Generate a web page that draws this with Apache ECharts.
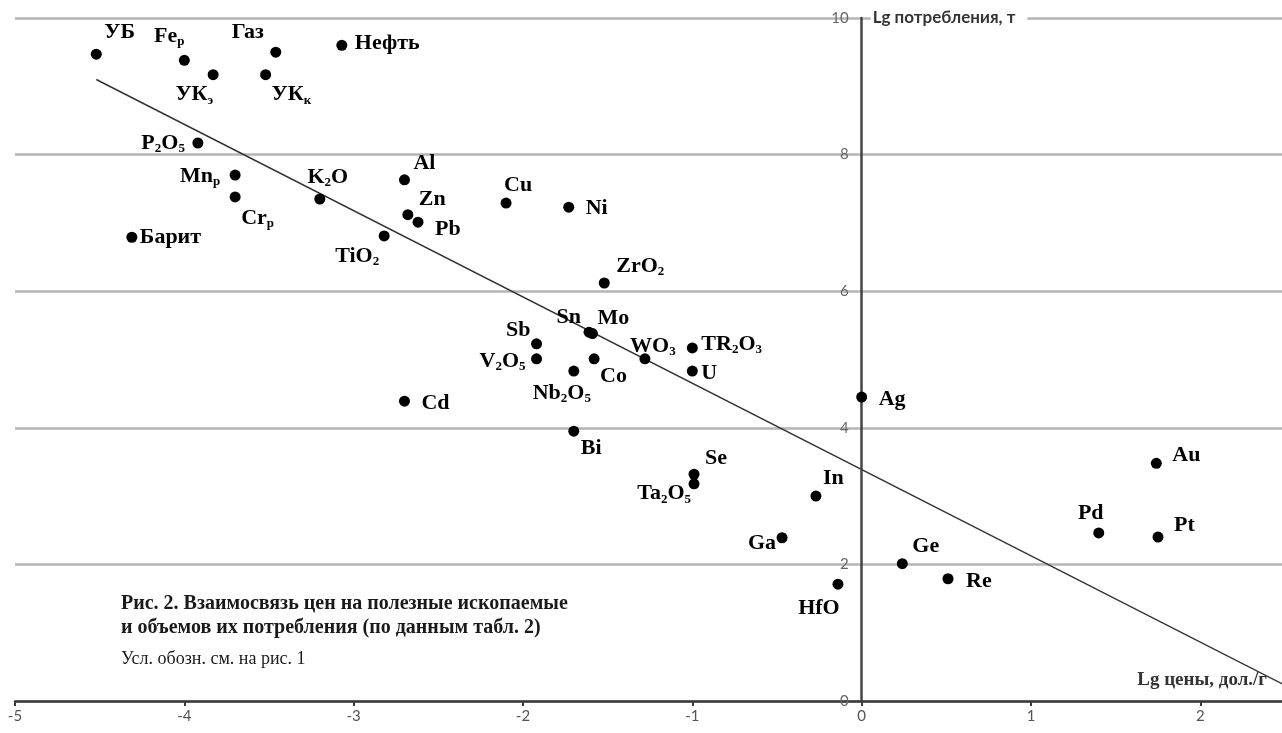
<!DOCTYPE html>
<html>
<head>
<meta charset="utf-8">
<script src="https://cdn.jsdelivr.net/npm/echarts@6/dist/echarts.min.js"></script>
<style>
html,body{margin:0;padding:0;background:#fff;}
#chart{width:1282px;height:733px;}
</style>
</head>
<body>
<div id="chart"></div>
<script>
// ---- data ----
const names = ['УБ','Fe_р','Газ','Нефть','УК_э','УК_к','P_2O_5','Mn_р','Cr_р','K_2O','Al','Zn','Pb','Барит','TiO_2','Cd','Cu','Ni','ZrO_2','Sn','Mo','Sb','V_2O_5','Nb_2O_5','Co','WO_3','TR_2O_3','U','Bi','Se','Ta_2O_5','In','Ga','HfO','Ge','Re','Ag','Au','Pd','Pt'];
const lgPrice = [-4.52,-4.00,-3.46,-3.07,-3.83,-3.52,-3.92,-3.70,-3.70,-3.20,-2.70,-2.68,-2.62,-4.31,-2.82,-2.70,-2.10,-1.73,-1.52,-1.61,-1.59,-1.92,-1.92,-1.70,-1.58,-1.28,-1.00,-1.00,-1.70,-0.99,-0.99,-0.27,-0.47,-0.14,0.24,0.51,0.00,1.74,1.40,1.75];
const lgConsumption = [9.47,9.38,9.50,9.60,9.17,9.17,8.17,7.70,7.38,7.35,7.63,7.12,7.01,6.79,6.81,4.39,7.29,7.23,6.12,5.40,5.38,5.23,5.01,4.83,5.01,5.01,5.17,4.83,3.95,3.32,3.18,3.00,2.39,1.71,2.01,1.79,4.45,3.48,2.46,2.40];
const trendX = [-4.52, 2.50];
const trendY = [9.10, 0.23];
const xTicks = [-5,-4,-3,-2,-1,0,1,2];
const yTicks = [0,2,4,6,8,10];
const yAxisName = 'Lg потребления, т';
const xAxisName = 'Lg цены, дол./г';
const captionBold = ['Рис. 2. Взаимосвязь цен на полезные ископаемые', 'и объемов их потребления (по данным табл. 2)'];
const captionNote = 'Усл. обозн. см. на рис. 1';

// ---- label placement (style only): [align, dx, dy] from the dot centre ----
const labelPlace = {
  'УБ':['left',8,-22], 'Fe_р':['center',-15,-24], 'Газ':['right',-12,-20], 'Нефть':['left',13,-2],
  'УК_э':['right',0,20], 'УК_к':['left',6,20], 'P_2O_5':['right',-13,0], 'Mn_р':['right',-15,1],
  'Cr_р':['left',6,21], 'K_2O':['center',8,-22], 'Al':['left',9,-17], 'Zn':['left',11,-15],
  'Pb':['left',17,7], 'Барит':['left',8,0], 'TiO_2':['right',-5,20], 'Cd':['left',17,2],
  'Cu':['left',-2,-18], 'Ni':['left',17,1], 'ZrO_2':['left',12,-17], 'Sn':['right',-8,-15],
  'Mo':['left',5,-15], 'Sb':['right',-6,-13], 'V_2O_5':['right',-11,2], 'Nb_2O_5':['center',-12,22],
  'Co':['left',6,17], 'WO_3':['center',8,-13], 'TR_2O_3':['left',9,-4], 'U':['left',9,2],
  'Bi':['left',7,17], 'Se':['left',11,-16], 'Ta_2O_5':['right',-3,10], 'In':['left',7,-18],
  'Ga':['right',-6,6], 'HfO':['center',-19,24], 'Ge':['left',10,-17], 'Re':['left',18,3],
  'Ag':['left',17,2], 'Au':['left',16,-8], 'Pd':['center',-8,-20], 'Pt':['left',16,-12]
};

function toRich(n){
  const parts = n.split(/_(.)/);
  let out = '';
  parts.forEach((p,i)=>{ if(p==='') return; out += (i%2===1) ? '{s|'+p+'}' : '{b|'+p+'}'; });
  return out;
}

const SERIF = '"Liberation Serif","Times New Roman",serif';
const SANS = 'Lato,"Open Sans",sans-serif';
const DOT = 11;

const scatterData = names.map((n,i)=>{
  const pl = labelPlace[n] || ['left',10,0];
  return {
    value:[lgPrice[i], lgConsumption[i]],
    name:n,
    label:{align:pl[0], verticalAlign:'middle', position:[DOT/2 + pl[1], DOT/2 + pl[2]]}
  };
});

const GRID_LEFT = 15, GRID_WIDTH = 1270, X_MIN = -5, X_MAX = 2.5;
// offset that puts the value axis on x = 0
const yAxisOffset = -GRID_WIDTH * (0 - X_MIN) / (X_MAX - X_MIN);

const chart = echarts.init(document.getElementById('chart'), null, {renderer:'canvas'});
const option = {
  animation:false,
  backgroundColor:'#fff',
  grid:{left:GRID_LEFT, width:GRID_WIDTH, top:18, bottom:32, containLabel:false, outerBoundsMode:'none'},
  xAxis:{
    type:'value', min:X_MIN, max:X_MAX, interval:1, z:4,
    name:xAxisName, nameLocation:'end', nameGap:-18,
    nameTextStyle:{fontFamily:SERIF, fontWeight:'bold', fontSize:19, color:'#333', align:'right', verticalAlign:'bottom', padding:[0,0,11,0]},
    axisLine:{onZero:false, lineStyle:{color:'#3a3a3a', width:2.5}},
    axisTick:{show:true, inside:false, length:5, lineStyle:{color:'#3a3a3a', width:2}},
    axisLabel:{margin:8, fontFamily:SANS, fontSize:15, color:'#555',
      formatter:v=> xTicks.indexOf(v)>=0 ? String(v) : ''},
    splitLine:{show:false}
  },
  yAxis:[{
    type:'value', min:0, max:10, interval:2, z:4,
    position:'left', offset:yAxisOffset,
    name:'{g|}{t|'+yAxisName+'}', nameLocation:'end', nameGap:0,
    nameTextStyle:{align:'left', verticalAlign:'middle',
      rich:{g:{width:9}, t:{fontFamily:SANS, fontWeight:'bold', fontSize:17, color:'#333', backgroundColor:'#fff', padding:[2,12,2,2]}}},
    axisLine:{onZero:false, lineStyle:{color:'#444', width:2.5}},
    axisTick:{show:false},
    axisLabel:{margin:13, fontFamily:SANS, fontSize:15, color:'#666',
      formatter:v=> yTicks.indexOf(v)>=0 ? String(v) : ''},
    splitLine:{show:false}
  },{
    type:'value', min:0, max:10, interval:2, z:0,
    axisLine:{show:false}, axisTick:{show:false}, axisLabel:{show:false},
    splitLine:{show:true, lineStyle:{color:'#b4b4b4', width:2.5}}
  }],
  series:[{
    type:'line', z:2, silent:true,
    data:[[trendX[0],trendY[0]],[trendX[1],trendY[1]]],
    symbol:'none', lineStyle:{color:'#333', width:1.5}
  },{
    type:'scatter', z:5,
    symbol:'circle', symbolSize:DOT,
    itemStyle:{color:'#000', opacity:1},
    data:scatterData,
    label:{
      show:true,
      formatter:p=>toRich(p.name),
      rich:{
        b:{fontFamily:SERIF, fontWeight:'bold', fontSize:22, color:'#000', lineHeight:24},
        s:{fontFamily:SERIF, fontWeight:'bold', fontSize:13, color:'#000', lineHeight:13, verticalAlign:'bottom'}
      }
    },
    labelLayout:{hideOverlap:false}
  }],
  graphic:[
    {type:'text', left:121, top:594, style:{text:captionBold[0], font:'bold 20px "Liberation Serif"', fill:'#1a1a1a'}},
    {type:'text', left:121, top:618, style:{text:captionBold[1], font:'bold 20px "Liberation Serif"', fill:'#1a1a1a'}},
    {type:'text', left:121, top:650, style:{text:captionNote, font:'18px "Liberation Serif"', fill:'#1a1a1a'}}
  ]
};
chart.setOption(option);
</script>
</body>
</html>
